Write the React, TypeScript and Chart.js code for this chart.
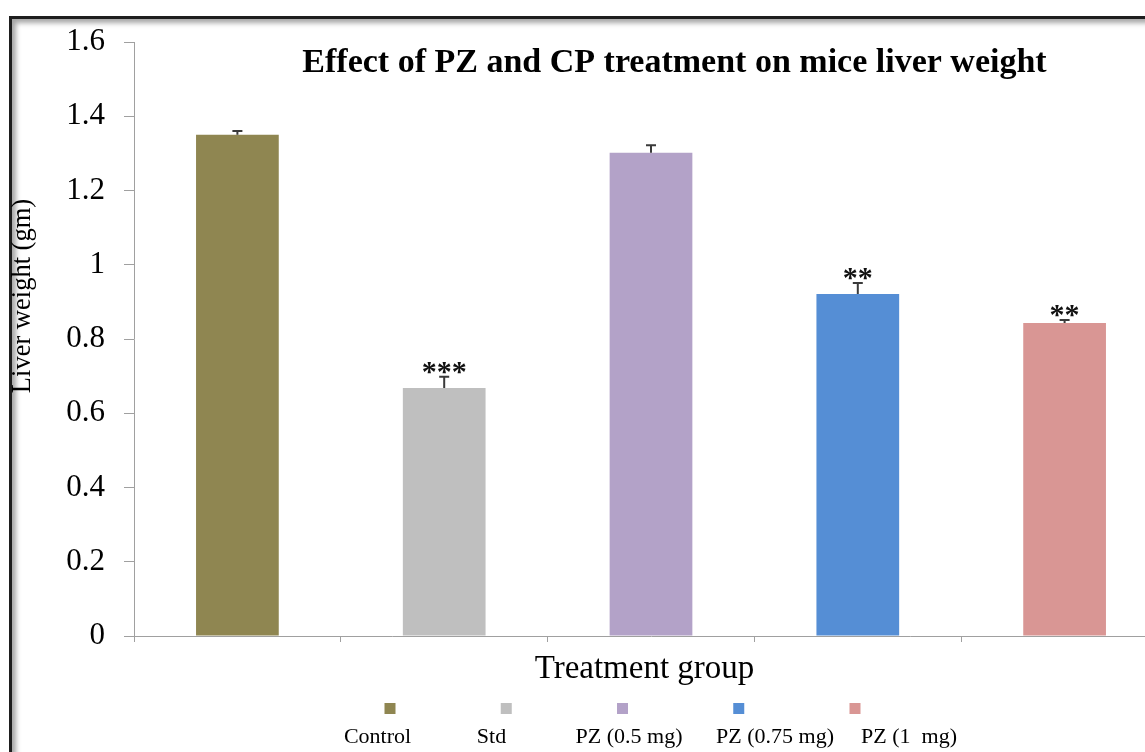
import React, { useEffect, useRef } from "react";
import { Chart, registerables } from "chart.js";

Chart.register(...registerables);

// ---- data ----
const categories = ["Control", "Std", "PZ (0.5 mg)", "PZ (0.75 mg)", "PZ (1  mg)"];
const liverWeight = [1.35, 0.668, 1.302, 0.921, 0.843];
const errorValues = [0.01, 0.03, 0.02, 0.03, 0.008];
const significance = ["", "***", "", "**", "**"];
const yTickValues = [0, 0.2, 0.4, 0.6, 0.8, 1, 1.2, 1.4, 1.6];
const barColors = ["#8F8651", "#BFBFBF", "#B3A2C8", "#558ED5", "#D99694"];
const chartTitle = "Effect of PZ and CP treatment on mice liver weight";
const xAxisTitle = "Treatment group";
const yAxisTitle = "Liver weight (gm)";

const SERIF = '"Liberation Serif", "Times New Roman", serif';

const overlayPlugin = {
  id: "overlay",
  afterDatasetsDraw(chart: any) {
    const ctx = chart.ctx;
    const y = chart.scales.y;
    const meta = chart.getDatasetMeta(0);
    ctx.save();
    meta.data.forEach((bar: any, i: number) => {
      const x = bar.x;
      const top = y.getPixelForValue(liverWeight[i]);
      const et = y.getPixelForValue(liverWeight[i] + errorValues[i]);
      ctx.strokeStyle = "#3a3a3a";
      ctx.lineWidth = 2;
      ctx.beginPath();
      ctx.moveTo(x, top);
      ctx.lineTo(x, et);
      ctx.moveTo(x - 5, et);
      ctx.lineTo(x + 5, et);
      ctx.stroke();
      if (significance[i]) {
        ctx.font = `bold 30px ${SERIF}`;
        ctx.textAlign = "center";
        ctx.textBaseline = "alphabetic";
        ctx.fillStyle = "#111";
        ctx.fillText(significance[i], x, et + 4);
      }
    });
    ctx.restore();
  },
  afterDraw(chart: any) {
    const ctx = chart.ctx;
    const area = chart.chartArea;
    ctx.save();
    ctx.fillStyle = "#000";
    // chart title
    ctx.font = `bold 34px ${SERIF}`;
    ctx.textAlign = "center";
    ctx.textBaseline = "alphabetic";
    ctx.fillText(chartTitle, 674.5, 72);
    // x axis title
    ctx.font = `33px ${SERIF}`;
    ctx.fillText(xAxisTitle, 644.5, area.bottom + 42);
    // y axis title
    ctx.save();
    ctx.translate(30, 296);
    ctx.rotate(-Math.PI / 2);
    ctx.font = `26.5px ${SERIF}`;
    ctx.fillText(yAxisTitle, 0, 0);
    ctx.restore();
    // legend
    const labelCenters = [377.5, 491.5, 629, 775, 909];
    categories.forEach((c, i) => {
      const sx = 622.5 + (i - 2) * 116.25;
      ctx.fillStyle = barColors[i];
      ctx.fillRect(sx - 5.5, 703, 11, 11);
      ctx.fillStyle = "#000";
      ctx.font = `22px ${SERIF}`;
      ctx.textAlign = "center";
      ctx.fillText(c, labelCenters[i], 743);
    });
    ctx.restore();
  },
};

export default function App() {
  const canvasRef = useRef<HTMLCanvasElement | null>(null);

  useEffect(() => {
    const canvas = canvasRef.current;
    if (!canvas) return;
    const chart = new Chart(canvas, {
      type: "bar",
      data: {
        labels: categories,
        datasets: [
          {
            data: liverWeight,
            backgroundColor: barColors,
            borderWidth: 0,
            barPercentage: 0.4,
            categoryPercentage: 1,
          },
        ],
      },
      options: {
        animation: false,
        responsive: false,
        devicePixelRatio: 1,
        layout: { padding: { top: 42, right: 32, left: 0, bottom: 0 } },
        plugins: {
          legend: { display: false },
          tooltip: { enabled: false },
          title: { display: false },
        },
        scales: {
          x: {
            offset: true,
            grid: {
              display: true,
              offset: true,
              drawOnChartArea: false,
              drawTicks: true,
              tickLength: 6,
              color: "#a0a0a0",
            },
            border: { display: true, color: "#a0a0a0", width: 1 },
            ticks: { display: false },
            afterFit(scale: any) {
              scale.height = 116;
            },
          },
          y: {
            min: 0,
            max: 1.6,
            afterBuildTicks(scale: any) {
              scale.ticks = yTickValues.map((v) => ({ value: v }));
            },
            grid: {
              display: true,
              drawOnChartArea: false,
              drawTicks: true,
              tickLength: 10,
              color: "#a0a0a0",
            },
            border: { display: true, color: "#a0a0a0", width: 1 },
            ticks: {
              padding: 19,
              color: "#000",
              font: { family: SERIF, size: 31 },
              callback: (v: any) => String(Math.round(Number(v) * 10) / 10),
            },
            afterFit(scale: any) {
              scale.width = 134;
            },
          },
        },
      },
      plugins: [overlayPlugin],
    });
    return () => chart.destroy();
  }, []);

  return (
    <div
      style={{
        position: "fixed",
        left: 0,
        top: 0,
        width: 1145,
        height: 752,
        overflow: "hidden",
        background: "#fff",
      }}
    >
      <div
        style={{
          position: "absolute",
          left: 9,
          top: 16,
          width: 1200,
          height: 800,
          border: "3px solid #1e1e1e",
          boxShadow: "inset 4px 4px 5px rgba(0,0,0,0.35)",
        }}
      />
      <canvas
        ref={canvasRef}
        width={1200}
        height={752}
        style={{ position: "absolute", left: 0, top: 0, width: 1200, height: 752 }}
      />
    </div>
  );
}
